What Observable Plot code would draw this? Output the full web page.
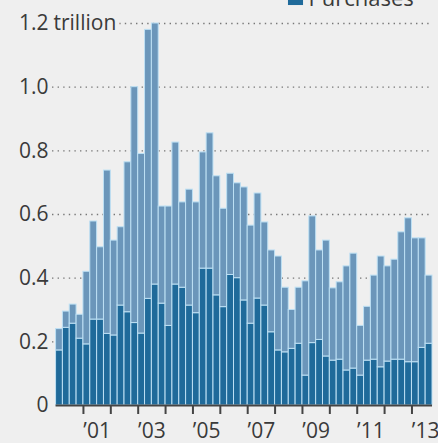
<!DOCTYPE html>
<html>
<head>
<meta charset="utf-8">
<script src="https://cdn.jsdelivr.net/npm/d3@7"></script>
<script src="https://cdn.jsdelivr.net/npm/@observablehq/plot@0.6"></script>
<style>
  html, body { margin: 0; padding: 0; background: #efefef; }
</style>
</head>
<body>
<div id="chart"></div>
<script>
// Quarterly data, 2000 Q1 – 2013 Q3, in trillions of dollars
const startYear = 2000;
const purchases = [
  0.173, 0.244, 0.257, 0.210,
  0.192, 0.270, 0.270, 0.225,
  0.220, 0.314, 0.293, 0.259,
  0.226, 0.335, 0.380, 0.320,
  0.250, 0.380, 0.370, 0.314,
  0.290, 0.430, 0.430, 0.346,
  0.309, 0.410, 0.400, 0.330,
  0.257, 0.336, 0.314, 0.230,
  0.173, 0.167, 0.178, 0.194,
  0.094, 0.196, 0.206, 0.154,
  0.141, 0.144, 0.110, 0.116,
  0.094, 0.141, 0.144, 0.120,
  0.138, 0.144, 0.144, 0.136,
  0.136, 0.181, 0.194
];
const refinancing = [
  0.067, 0.051, 0.060, 0.075,
  0.228, 0.308, 0.227, 0.513,
  0.298, 0.246, 0.471, 0.741,
  0.564, 0.845, 0.820, 0.305,
  0.375, 0.446, 0.268, 0.364,
  0.348, 0.365, 0.425, 0.374,
  0.309, 0.318, 0.298, 0.355,
  0.308, 0.330, 0.261, 0.257,
  0.295, 0.203, 0.122, 0.176,
  0.296, 0.398, 0.281, 0.364,
  0.227, 0.243, 0.327, 0.361,
  0.156, 0.169, 0.264, 0.348,
  0.299, 0.314, 0.400, 0.452,
  0.389, 0.344, 0.214
];
const seriesNames = ["Purchases", "Refinancing"];
const seriesColors = ["#1f6a9a", "#6b96ba"];
const yTicks = [0, 0.2, 0.4, 0.6, 0.8, 1.0, 1.2];
const yTickLabels = ["0", "0.2", "0.4", "0.6", "0.8", "1.0", "1.2"];
const yUnit = "trillion";
const xTickYears = [2001, 2002, 2003, 2004, 2005, 2006, 2007, 2008, 2009, 2010, 2011, 2012, 2013];
const xLabelYears = [2001, 2003, 2005, 2007, 2009, 2011, 2013];
const xLabels = ["\u201901", "\u201903", "\u201905", "\u201907", "\u201909", "\u201911", "\u201913"];
const legendLabel = "Purchases";

// Build segments for the stacked bars
const segs = [];
purchases.forEach((p, i) => {
  const t0 = startYear + i / 4, t1 = startYear + (i + 1) / 4;
  segs.push({t0, t1, y1: 0, y2: p, series: seriesNames[0]});
  segs.push({t0, t1, y1: p, y2: p + refinancing[i], series: seriesNames[1]});
});
const firstT = startYear;
const lastT = startYear + purchases.length / 4;

const bg = "#efefef";
const ink = "#3a3a3a";
const fs = 21;

const chart = Plot.plot({
  width: 438,
  height: 443,
  marginTop: 23,
  marginBottom: 38,
  marginLeft: 52,
  marginRight: 6,
  style: {background: bg, fontFamily: "'Open Sans', sans-serif", fontSize: fs + "px", color: ink},
  x: {domain: [1999.87, lastT]},
  y: {domain: [0, 1.2], axis: null},
  color: {domain: seriesNames, range: seriesColors},
  marks: [
    Plot.ruleY(yTicks.filter(d => d > 0), {stroke: "#777", strokeWidth: 1.4, strokeDasharray: "1.4 4.2"}),
    Plot.rect(segs, {x1: "t0", x2: "t1", y1: "y1", y2: "y2", fill: "series", stroke: "#bde0f4", strokeWidth: 1}),
    Plot.ruleY([0], {x1: firstT, x2: lastT, stroke: "#444", strokeWidth: 2}),
    Plot.axisX(xTickYears, {tickSize: 9, tickFormat: () => "", stroke: "#444", strokeWidth: 2}),
    Plot.text(xLabelYears, {x: d => d + 0.5, text: (d, i) => xLabels[i], frameAnchor: "bottom", dy: 26, lineAnchor: "middle", fill: ink, fontSize: fs}),
    Plot.text(yTicks, {y: d => d, text: (d, i) => yTickLabels[i], frameAnchor: "left", textAnchor: "end", dx: -4, fill: ink, fontSize: fs}),
    Plot.text([yUnit], {y: () => 1.2, text: d => d, frameAnchor: "left", textAnchor: "start", dx: 1, fill: ink, fontSize: fs, stroke: bg, strokeWidth: 9, paintOrder: "stroke"}),
    Plot.dot([legendLabel], {frameAnchor: "top-right", dx: -137, dy: -26, symbol: "square", r: 8.5, fill: seriesColors[0]}),
    Plot.text([legendLabel], {text: d => d, frameAnchor: "top-right", dx: -124, dy: -25, textAnchor: "start", lineAnchor: "middle", fill: ink, fontSize: 22})
  ]
});
document.getElementById("chart").appendChild(chart);
</script>
</body>
</html>
